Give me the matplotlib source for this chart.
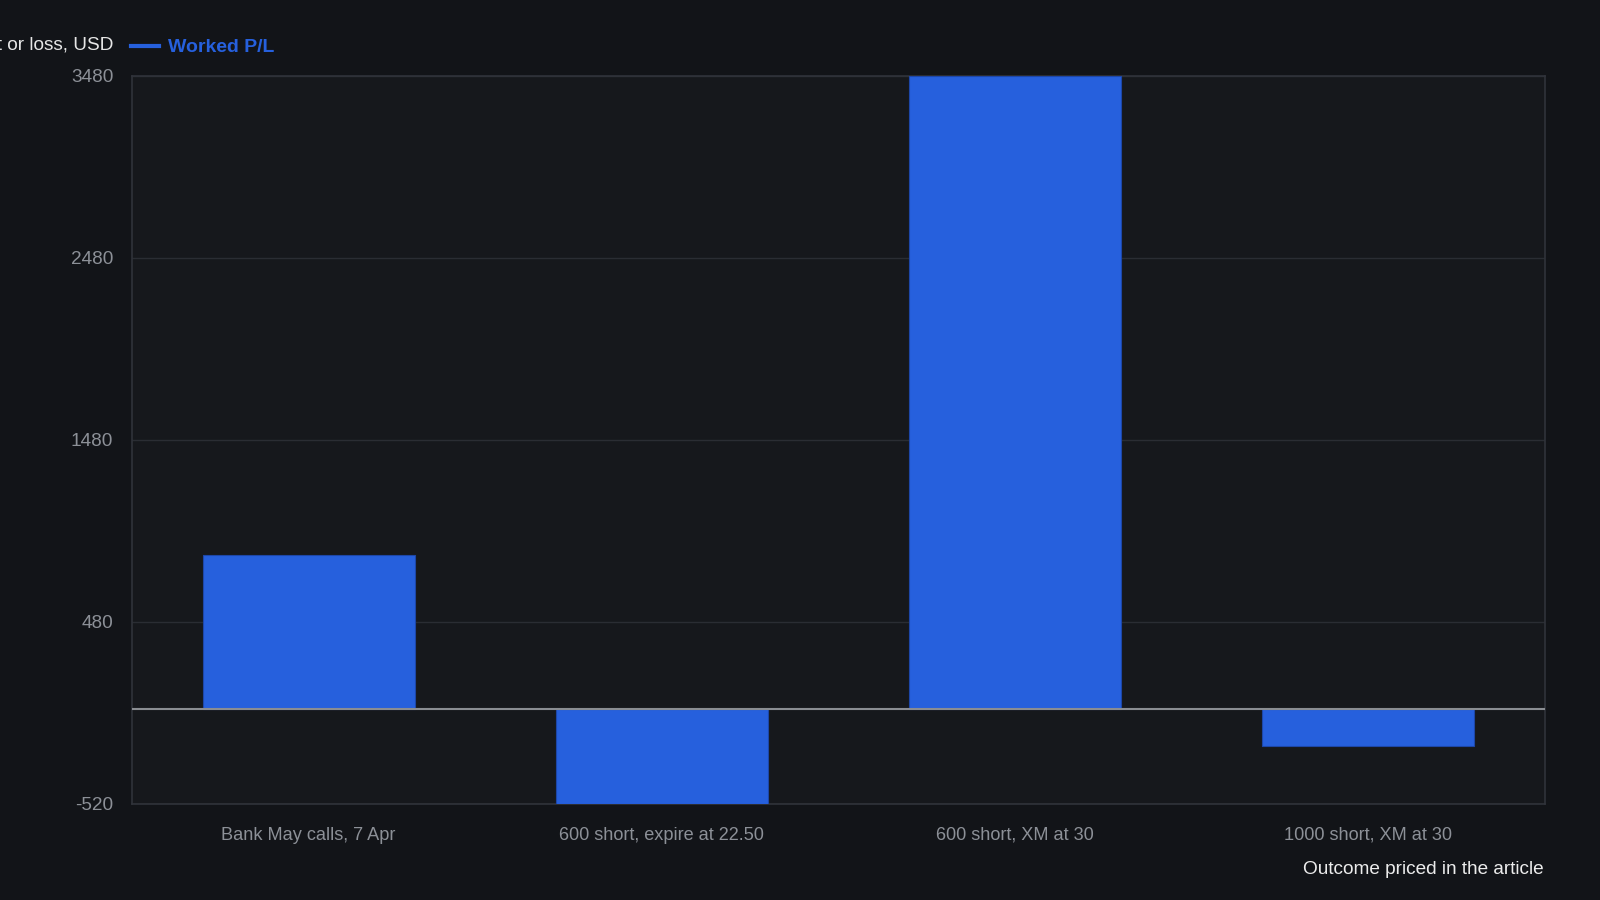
import matplotlib
matplotlib.use("Agg")
import matplotlib.pyplot as plt
from matplotlib.lines import Line2D

categories = ["Bank May calls, 7 Apr", "600 short, expire at 22.50",
              "600 short, XM at 30", "1000 short, XM at 30"]
pl_values = [850, -520, 3480, -200]
y_ticks = [-520, 480, 1480, 2480, 3480]
series_name = "Worked P/L"
axis_title = "Profit or loss, USD"
footer = "Outcome priced in the article"

BG = "#121418"
PLOT_BG = "#16181c"
BAR = "#2660dd"
TICK = "#8c9097"

plt.rcParams['font.family'] = ['Liberation Sans', 'DejaVu Sans']

fig = plt.figure(figsize=(16, 9), dpi=100, facecolor=BG)
W, H = 1600, 900
left, right, top, bottom = 132, 1545, 76, 804
ax = fig.add_axes([left / W, 1 - bottom / H, (right - left) / W, (bottom - top) / H])
ax.set_facecolor(PLOT_BG)

x = list(range(len(categories)))
ax.bar(x, pl_values, width=0.6, color=BAR, edgecolor="#1d47a8", linewidth=0.8, zorder=3)
ax.set_xlim(-0.5, len(categories) - 0.5)
ax.set_ylim(y_ticks[0], y_ticks[-1])
ax.set_yticks(y_ticks)
ax.set_yticklabels([str(t) for t in y_ticks])
ax.set_xticks(x)
ax.set_xticklabels(categories)
ax.tick_params(axis='both', length=0, colors=TICK)
ax.tick_params(axis='y', pad=13.5, labelsize=13.7)
ax.tick_params(axis='x', pad=16.5, labelsize=13.05)
ax.grid(axis='y', color="#2a2d33", linewidth=1, zorder=0)
ax.axhline(0, color="#8a8d92", linewidth=1.5, zorder=4)
for s in ax.spines.values():
    s.set_color("#30333a")
    s.set_linewidth(1.2)

fig.text(113 / W, 1 - 45 / H, axis_title, ha='right', va='center', color="#e6e6e6", fontsize=13.7)
fig.lines.append(Line2D([131 / W, 159 / W], [1 - 46 / H, 1 - 46 / H], color=BAR, linewidth=3,
                        transform=fig.transFigure))
fig.text(168 / W, 1 - 47 / H, series_name, ha='left', va='center', color=BAR, fontsize=14,
         fontweight='bold')
fig.text(1544 / W, 1 - 870 / H, footer, ha='right', va='center', color="#ececec", fontsize=13.7)

fig.savefig("out.png", dpi=100, facecolor=BG)
